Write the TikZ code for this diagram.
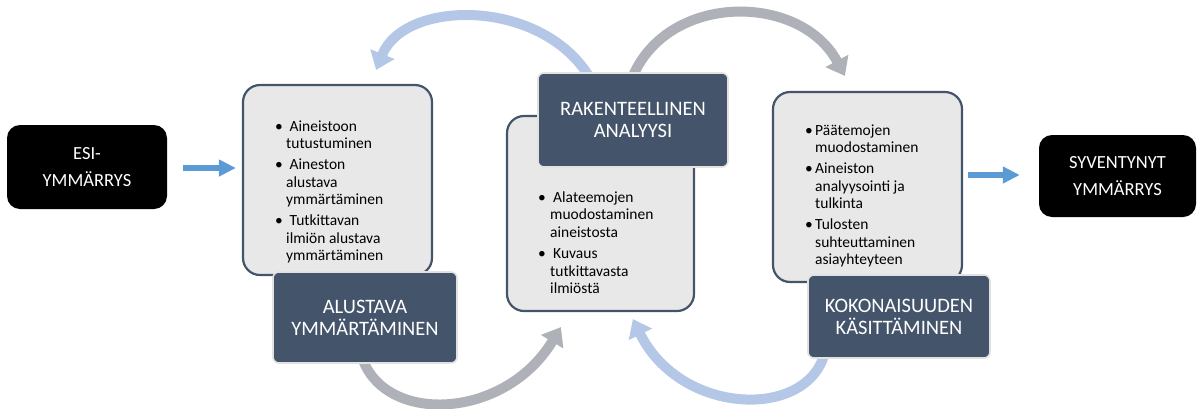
\documentclass[tikz,border=0pt]{standalone}
\usepackage{fontspec}
\setmainfont{Carlito}
\usetikzlibrary{arrows.meta,calc}
\pgfdeclarelayer{background}
\pgfsetlayers{background,main}

\definecolor{slate}{HTML}{44546A}
\definecolor{panelgray}{HTML}{E8E8E8}
\definecolor{paleblue}{HTML}{B4C7E7}
\definecolor{flowgray}{HTML}{AEB1B7}
\definecolor{accent}{HTML}{5B9BD5}
\definecolor{halo}{HTML}{E2E2E2}

% bullet mark of a given width
\newcommand\markitem[1]{\makebox[#1][l]{\textbullet}}

\tikzset{
  phase/.style={fill=slate, draw=halo, line width=1.6pt, rounded corners=6pt,
    text=white, align=center, inner sep=0pt,
    font=\fontsize{20.5}{22}\selectfont},
  panel/.style={fill=panelgray, draw=slate, line width=2.2pt, rounded corners=17pt,
    inner sep=0pt},
  endbox/.style={fill=black, rounded corners=13pt, text=white, align=center,
    inner sep=0pt, font=\fontsize{18.5}{27}\selectfont},
  bullets/.style={anchor=base west, inner sep=0pt,
    font=\fontsize{15.5}{17.5}\selectfont},
  loopblue/.style={draw=paleblue, line width=10pt,
    -{Triangle[width=25pt,length=17pt]}},
  loopgray/.style={draw=flowgray, line width=10pt,
    -{Triangle[width=25pt,length=17pt]}},
  feed/.style={draw=accent, line width=5.5pt,
    -{Triangle[width=16pt,length=17pt]}},
}

\begin{document}
\begin{tikzpicture}[x=1pt,y=-1pt]
\useasboundingbox (0,0) rectangle (1197,408);

% start and end states
\node[endbox, minimum width=160, minimum height=84] (esi) at (87,167) {ESI-\\YMMÄRRYS};
\node[endbox, minimum width=157, minimum height=82] (syv) at (1117.5,176) {SYVENTYNYT\\YMMÄRRYS};

% content panels
\node[panel, minimum width=189, minimum height=190] (box1) at (337.5,180) {};
\node[panel, minimum width=187, minimum height=195] (box2) at (600.5,213.5) {};
\node[panel, minimum width=189, minimum height=190] (box3) at (867.5,187) {};

% phase titles
\node[phase, minimum width=184, minimum height=91] (alu) at (365,317.5) {ALUSTAVA\\YMMÄRTÄMINEN};
\node[phase, minimum width=190, minimum height=94] (rak) at (633,120) {RAKENTEELLINEN\\ANALYYSI};
\node[phase, minimum width=182, minimum height=83] (kok) at (899,316.5) {KOKONAISUUDEN\\KÄSITTÄMINEN};

% panel contents
\node[bullets] (txt1) at (275,131) {%
  \begin{tabular}[t]{@{}l@{}l@{}}
  \markitem{11pt} & \hspace{3.5pt}Aineistoon\\
   & tutustuminen\\[3.5pt]
  \markitem{11pt} & \hspace{3.5pt}Aineston\\
   & alustava\\
   & ymmärtäminen\\[3.5pt]
  \markitem{11pt} & \hspace{3.5pt}Tutkittavan\\
   & ilmiön alustava\\
   & ymmärtäminen
  \end{tabular}};

\node[bullets] (txt2) at (538,202) {%
  \begin{tabular}[t]{@{}l@{}l@{}}
  \markitem{12pt} & \hspace{3pt}Alateemojen\\
   & muodostaminen\\
   & aineistosta\\[4pt]
  \markitem{12pt} & \hspace{3pt}Kuvaus\\
   & tutkittavasta\\
   & ilmiöstä
  \end{tabular}};

\node[bullets] (txt3) at (805,135) {%
  \begin{tabular}[t]{@{}l@{}l@{}}
  \markitem{10pt} & Päätemojen\\
   & muodostaminen\\[3.5pt]
  \markitem{10pt} & Aineiston\\
   & analyysointi ja\\
   & tulkinta\\[3.5pt]
  \markitem{10pt} & Tulosten\\
   & suhteuttaminen\\
   & asiayhteyteen
  \end{tabular}};

% straight feed arrows
\draw[feed] ($(esi.east)+(16,1)$) -- ($(box1.west)+(-6,-12)$);
\draw[feed] ($(box3.east)+(5,-12)$) -- ($(syv.west)+(-19,-1)$);

% cycle arrows, drawn behind the boxes
\begin{pgfonlayer}{background}
\draw[loopblue] ($(rak.north west)+(54,8)$) .. controls (545,-2) and (405,-2) .. ($(box1.north east)+(-57,-14)$);
\draw[loopgray] ($(rak.north west)+(94,8)$) .. controls (665,-8) and (800,-8) .. ($(box3.north west)+(73,-15)$);
\draw[loopgray] ($(alu.south west)+(90,-6)$) .. controls (385,425) and (505,420) .. ($(box2.south west)+(55,15)$);
\draw[loopblue] ($(kok.south west)+(17,-4)$) .. controls (805,420) and (680,415) .. ($(box2.south west)+(127,7)$);
\end{pgfonlayer}
\end{tikzpicture}
\end{document}
